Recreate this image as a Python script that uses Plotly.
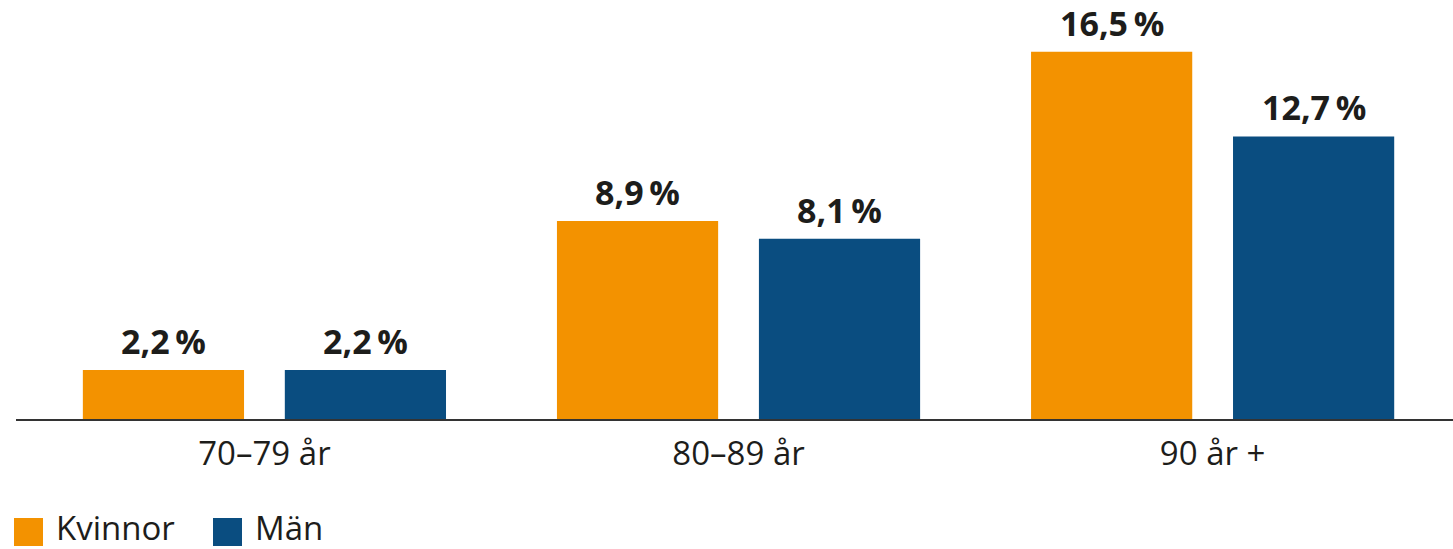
import plotly.graph_objects as go

categories = ["70–79 år", "80–89 år", "90 år +"]
series_names = ["Kvinnor", "Män"]
kvinnor = [2.2, 8.9, 16.5]
man = [2.2, 8.1, 12.7]
values = [kvinnor, man]

colors = ["#F39200", "#0A4D80"]
offsets = [-0.383, 0.043]
bar_w = 0.34
text_color = "#1d1d1b"
FONT = "Open Sans"

xs = list(range(len(categories)))

def fmt(v):
    return f"{v:.1f}".replace(".", ",") + "\u2009%"

fig = go.Figure()
for name, vals, col, off in zip(series_names, values, colors, offsets):
    fig.add_trace(go.Bar(
        x=xs, y=vals, name=name, marker=dict(color=col, line=dict(width=0)),
        width=bar_w, offset=off, showlegend=False, hoverinfo="skip",
    ))
    for xi, v in zip(xs, vals):
        fig.add_annotation(
            x=xi + off + bar_w / 2, y=v, xref="x", yref="y",
            text=f"<b>{fmt(v)}</b>", showarrow=False,
            yanchor="bottom", yshift=5, borderpad=0,
            font=dict(family=FONT, size=34, color=text_color),
        )

# legend drawn manually (large square swatches)
leg_x = [-2, 197]
for name, col, lx in zip(series_names, colors, leg_x):
    fig.add_shape(
        type="rect", xref="paper", yref="paper",
        xsizemode="pixel", ysizemode="pixel", xanchor=0, yanchor=0,
        x0=lx, x1=lx + 29, y0=-99, y1=-127,
        fillcolor=col, line=dict(width=0),
    )
    fig.add_annotation(
        xref="paper", yref="paper", x=0, y=0, xanchor="left", yanchor="middle",
        xshift=lx + 41, yshift=-108, text=name, showarrow=False, borderpad=0,
        font=dict(family=FONT, size=33, color=text_color),
    )

fig.update_layout(
    width=1453, height=549,
    margin=dict(l=16, r=0, t=0, b=130),
    paper_bgcolor="white", plot_bgcolor="white",
    showlegend=False,
    font=dict(family=FONT, color=text_color),
)
fig.update_xaxes(
    range=[-0.524, 2.507], tickvals=xs, ticktext=categories,
    showline=True, linewidth=2, linecolor="#333333", showgrid=False,
    zeroline=False, ticks="", tickfont=dict(family=FONT, size=33, color=text_color),
    ticklabelstandoff=4, fixedrange=True,
)
fig.update_yaxes(
    range=[0, 18.83], visible=False, showgrid=False, zeroline=False, fixedrange=True,
)

fig.write_html("out.html")
